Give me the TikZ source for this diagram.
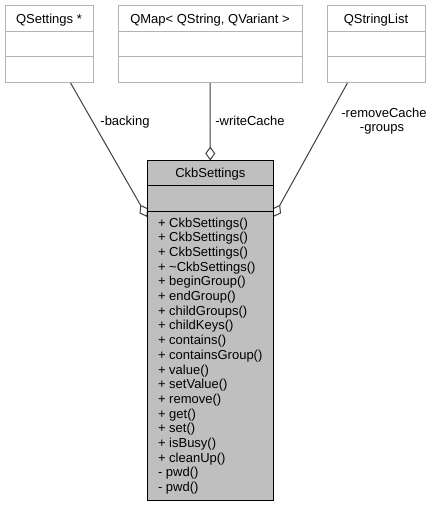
\documentclass[tikz,border=0pt]{standalone}
\usepackage{fontspec}
\setmainfont{Liberation Sans}
\usetikzlibrary{arrows.meta,calc,backgrounds}
\definecolor{boxgray}{HTML}{B3B3B3}
\definecolor{fillgray}{HTML}{BFBFBF}
\definecolor{edgegray}{HTML}{404040}
\begin{document}
\begin{tikzpicture}[x=1pt,y=-1pt,
  every node/.style={font=\fontsize{13}{15}\selectfont, inner sep=0pt, outer sep=0pt},
  lightbox/.style={draw=boxgray, line width=1pt, fill=white, anchor=north west, minimum height=77pt},
  classbox/.style={draw=black, line width=1pt, fill=fillgray, anchor=north west, minimum width=126pt, minimum height=340pt},
  lightdiv/.style={draw=boxgray, line width=1pt},
  classdiv/.style={draw=black, line width=1pt},
  agg/.style={draw=edgegray, line width=1pt, -{Diamond[fill=white, length=14pt, width=10pt]}},
  lbl/.style={anchor=base},
  member/.style={anchor=base west}
]
\useasboundingbox (0,0) rectangle (432,507);
% top boxes
\node[lightbox, minimum width=88pt] (qs) at (5,5) {};
\node[lightbox, minimum width=184pt] (qm) at (118,5) {};
\node[lightbox, minimum width=98pt] (qsl) at (327,5) {};
\foreach \b in {qs,qm,qsl}{
  \draw[lightdiv] ($(\b.north west)+(0,26.7)$) -- ($(\b.north east)+(0,26.7)$);
  \draw[lightdiv] ($(\b.north west)+(0,51.7)$) -- ($(\b.north east)+(0,51.7)$);
}
\node[lbl] (qst) at ($(qs.north)+(0,18)$) {QSettings *};
\node[lbl] (qmt) at ($(qm.north)+(0,18)$) {QMap< QString, QVariant >};
\node[lbl] (qslt) at ($(qsl.north)+(0,18)$) {QStringList};
% main class
\node[classbox] (ckb) at (147.3,160.5) {};
\draw[classdiv] ($(ckb.north west)+(0,25)$) -- ($(ckb.north east)+(0,25)$);
\draw[classdiv] ($(ckb.north west)+(0,50.5)$) -- ($(ckb.north east)+(0,50.5)$);
\node[lbl] (ckbt) at ($(ckb.north)+(0,16.5)$) {CkbSettings};
\foreach \t [count=\i] in {+ CkbSettings(), + CkbSettings(), + CkbSettings(), + \textasciitilde CkbSettings(), + beginGroup(), + endGroup(), + childGroups(), + childKeys(), + contains(), + containsGroup(), + value(), + setValue(), + remove(), + get(), + set(), + isBusy(), + cleanUp(), - pwd(), - pwd()}{
  \node[member] (m\i) at (158, {227+14.7*(\i-1)}) {\t};
}
% edges
\begin{scope}[on background layer]
\fill[white] (0,0) rectangle (432,507);
\draw[agg] ($(qs.south west)+(65,0)$) -- ($(ckb.north west)+(0,56.5)$);
\draw[agg] (qm.south) -- (ckb.north);
\draw[agg] ($(qsl.south west)+(21,0)$) -- ($(ckb.north east)+(0,56.5)$);
\end{scope}
% edge labels
\node[lbl] (lb1) at (125,125.5) {-backing};
\node[lbl] (lb2) at (250,125.5) {-writeCache};
\node[lbl] (lb3) at (384,117.5) {-removeCache};
\node[lbl] (lb4) at (382,131.5) {-groups};
\end{tikzpicture}
\end{document}
